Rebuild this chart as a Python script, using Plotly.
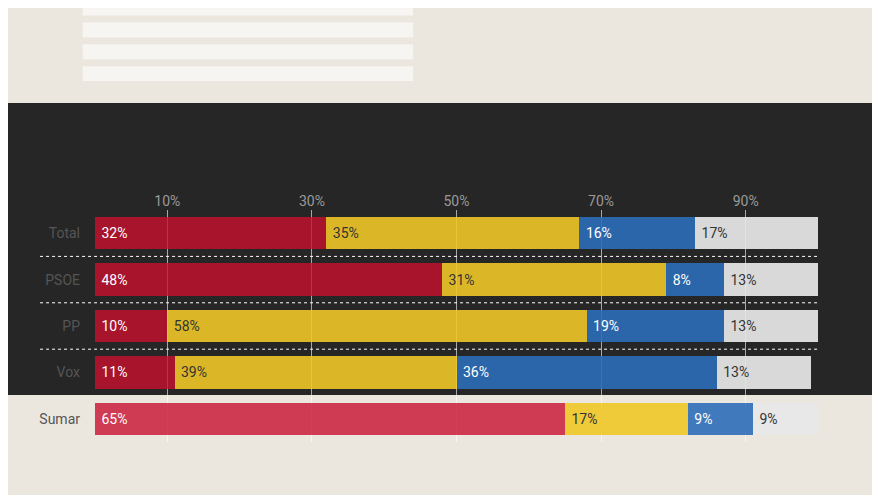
import plotly.graph_objects as go

rows = ["Total", "PSOE", "PP", "Vox", "Sumar"]
series = ["Izquierda", "Derecha", "Ultraderecha", "Ns/Nc"]
s1 = [32, 48, 10, 11, 65]
s2 = [35, 31, 58, 39, 17]
s3 = [16, 8, 19, 36, 9]
s4 = [17, 13, 13, 13, 9]
colors = ["rgba(200,16,46,0.8)", "rgba(240,200,40,0.9)", "rgba(45,110,185,0.9)", "rgba(232,232,232,0.92)"]
text_colors = ["white", "#333333", "white", "#333333"]
tick_vals = [10, 30, 50, 70, 90]

fig = go.Figure()
for name, vals, col, tc in zip(series, [s1, s2, s3, s4], colors, text_colors):
    fig.add_trace(go.Bar(
        y=rows, x=vals, name=name, orientation="h",
        marker=dict(color=col, line=dict(width=0)),
        text=[f" {v}%" for v in vals], textposition="inside", insidetextanchor="start",
        textfont=dict(color=tc, size=14, family="Roboto"),
        width=0.7, cliponaxis=False,
    ))

# dark photo band behind the chart
fig.add_shape(type="rect", xref="paper", yref="paper", x0=-0.2, x1=1.2, y0=0.203, y1=1.461,
              fillcolor="#262626", line=dict(width=0), layer="below")
# faint form on top
for i in range(5):
    fig.add_shape(type="rect", xref="paper", yref="paper", x0=-0.017, x1=0.44,
                  y0=1.556 + i * 0.094, y1=1.62 + i * 0.094,
                  fillcolor="rgba(250,249,246,0.8)", line=dict(width=0), layer="below")
for yy in [0.5, 1.5, 2.5]:
    fig.add_shape(type="line", xref="paper", yref="y", x0=-0.076, x1=1, y0=yy, y1=yy,
                  line=dict(color="white", width=1, dash="dot"))

fig.update_layout(
    barmode="stack", width=880, height=495, showlegend=False,
    paper_bgcolor="#ebe7df", plot_bgcolor="rgba(0,0,0,0)",
    margin=dict(l=87, r=70, t=202, b=61),
    font=dict(family="Roboto", size=14, color="#555555"),
    bargap=0.3,
)
fig.update_xaxes(range=[0, 100], side="top", tickvals=tick_vals, ticktext=[f"{v}%" for v in tick_vals],
                 showgrid=True, gridcolor="rgba(255,255,255,0.6)", gridwidth=1, zeroline=False,
                 tickfont=dict(color="#9a9a9a", size=14), ticks="", layer="above traces")
fig.update_yaxes(autorange="reversed", showgrid=False, ticks="", ticklabelstandoff=14,
                 tickfont=dict(color="#555555", size=14))

fig.write_html("out.html")
